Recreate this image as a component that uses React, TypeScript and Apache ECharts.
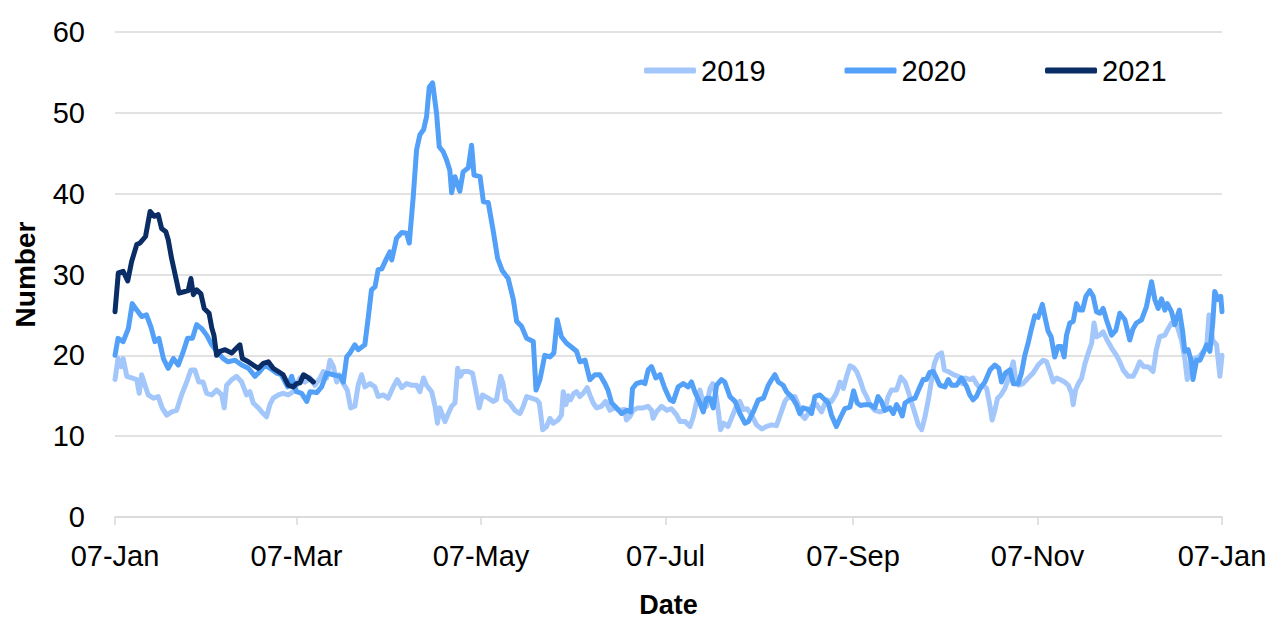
import React, { useEffect, useRef } from "react";
import * as echarts from "echarts";

// Day offset from 07-Jan (x) and value (y)
const xTickDays = [0, 60, 121, 182, 244, 305, 366];
const xTickLabels = ["07-Jan", "07-Mar", "07-May", "07-Jul", "07-Sep", "07-Nov", "07-Jan"];
const seriesNames = ["2019", "2020", "2021"];
const seriesColors = ["#A3C7FA", "#52A0F8", "#0A2D66"];

const data2019: [number, number][] = [
  [0, 17], [1, 19.6], [2, 18.6], [2.7, 19.6], [3.9, 17.4], [5.5, 17.2], [7.2, 17], [8, 15.3], [8.8, 17.6], [10.1, 16.1],
  [11, 15.1], [12.7, 14.7], [14.3, 14.9], [15.6, 13.5], [17.1, 12.6], [18.7, 13], [20.4, 13.2], [22, 15.1], [23.7, 16.7],
  [25.1, 18.2], [26.4, 18.2], [27.7, 16.7], [29.1, 16.7], [30.3, 15.3], [32, 15.1], [33.6, 15.7], [35.3, 15.1], [36.1, 13.5],
  [36.9, 16.3], [38.6, 17], [40.2, 17.4], [41.9, 16.7], [43.5, 15.1], [44.6, 15.5], [45.7, 14.1], [47.4, 13.5], [49, 12.8],
  [50.1, 12.4], [51.2, 13.9], [52.3, 14.7], [54, 15.1], [55.6, 15.3], [57.3, 15.1], [58.9, 15.5], [61.2, 17.2], [62.8, 16.7],
  [64.5, 17.2], [66.1, 16.3], [67.8, 17.2], [68.9, 18], [70, 17.2], [71.1, 19.4], [72.2, 18.6], [73.3, 16.7], [74.2, 17.6],
  [75.5, 16.5], [76.8, 15.7], [77.9, 13.5], [79.3, 13.7], [80.4, 16.3], [81.5, 17.6], [82.6, 16.1], [84.3, 16.5], [85.9, 16.1],
  [87, 14.9], [88.7, 15.1], [90.3, 14.7], [92, 16.1], [93.3, 17], [94.8, 16], [96.4, 16.5], [98.1, 16.3], [99.7, 16.3],
  [100.8, 15.5], [102, 17.2], [103, 16.3], [104.7, 15.5], [105.8, 13.7], [106.6, 11.6], [107.4, 13.5], [109.1, 11.8],
  [110.2, 12.8], [111.3, 13.7], [112.4, 14.1], [113.3, 18.4], [114.2, 17.4], [115.1, 18], [116.8, 18], [118.2, 17.8],
  [119.3, 15.7], [120.4, 13.5], [121.5, 15.1], [123.4, 14.7], [125, 14.3], [126.1, 14.5], [127.5, 17.4], [128.3, 16.5],
  [129.2, 14.5], [130.5, 14.1], [132.2, 13.2], [133.9, 12.8], [135, 13.7], [136.1, 14.9], [137.7, 14.7], [139.4, 14.5],
  [140.3, 14.1], [141.4, 10.8], [142.7, 11.2], [143.8, 12.2], [144.9, 11.6], [146.5, 12], [147.6, 12.6], [148.2, 15.5],
  [149.1, 13.9], [149.8, 15], [150.6, 14.5], [151.7, 15.3], [152.6, 15.5], [153.7, 14.9], [154.8, 15.3], [156.1, 16],
  [157, 15.1], [158.1, 14.1], [159.2, 13.5], [160.8, 13.7], [162.2, 14.3], [163.6, 13.2], [165.2, 13.5], [166.9, 13.2],
  [168.5, 13.3], [169.1, 12], [170.2, 12.4], [171.3, 13.2], [172.9, 13.5], [174.6, 13.5], [176.2, 13.7], [177.4, 13.2],
  [177.9, 12.2], [179, 13], [180.7, 13.7], [182.4, 13.2], [184, 13.4], [185.7, 12.6], [186.8, 11.8], [188.5, 11.8],
  [190.1, 11.2], [191.2, 12.4], [192.3, 14.3], [193.4, 15.7], [194.5, 14.1], [195.6, 13.7], [196.7, 15.9], [197.6, 16.5],
  [198.7, 15.1], [199.5, 13], [200.2, 10.8], [201.3, 11.6], [202.7, 11.2], [203.8, 12.2], [205.2, 13.5], [206.6, 14.3],
  [207.7, 13.3], [209, 13.4], [210.5, 12.6], [212.1, 11.4], [213.8, 10.9], [215.4, 11.2], [217.1, 11.4], [218.7, 11.3],
  [220.3, 13], [221.5, 14.3], [222.6, 14.9], [223.7, 14.7], [224.8, 14.9], [225.9, 13.9], [227, 12.6], [228.1, 12.2],
  [229.2, 12.8], [230.3, 13.7], [232, 13.9], [233.6, 13], [235.2, 14.5], [236.9, 14.3], [238.5, 15.3], [239.7, 16.7],
  [240.8, 15.9], [241.9, 17.4], [243, 18.7], [244.1, 18.5], [245.2, 18], [246.3, 17], [247.4, 15.7], [248.5, 14.9],
  [249.6, 13.9], [251.2, 13.2], [252.9, 13], [254.5, 13.2], [255.6, 14.9], [256.7, 15.7], [258.4, 15.7], [259.8, 17.3],
  [261.2, 16.7], [262.3, 15.5], [263.4, 14.1], [264.5, 12.8], [265.6, 11.4], [266.7, 10.8], [267.8, 12.4], [268.9, 14.5],
  [270, 17], [270.9, 19], [272, 20], [273.3, 20.3], [274.2, 18.2], [275.5, 18], [277.2, 17.6], [278.8, 17.4], [280.2, 16.5],
  [281, 17.2], [282.7, 17], [283.7, 17.2], [284.8, 16.5], [286, 15.9], [287.1, 16.3], [288.2, 15.9], [289.3, 13.7], [290, 12],
  [290.9, 13.2], [291.8, 14.7], [292.9, 15.1], [294.2, 15.9], [295.5, 17.2], [297, 19.2], [297.7, 17.2], [298.8, 16.3],
  [300.2, 16.5], [301.9, 17.2], [303.5, 17.8], [305.2, 18.8], [306.9, 19.4], [308, 19.2], [309.1, 18], [310.2, 16.7],
  [311.3, 17.2], [312.4, 17], [314, 16.7], [315.2, 16.3], [316.3, 15.3], [316.8, 13.9], [317.6, 15.7], [318.5, 16.5],
  [319.6, 17.2], [320.7, 19], [321.8, 20.3], [322.9, 21.5], [323.7, 24], [324.5, 22.3], [325.6, 22.5], [326.7, 22.9],
  [328, 21.9], [329.5, 20.9], [331.1, 20], [332.2, 19.2], [333.3, 18.2], [335, 17.4], [336.6, 17.4], [337.7, 18.2],
  [338.8, 19.2], [340.1, 18.6], [341.6, 18.6], [343.2, 18], [344.3, 20.7], [345.4, 22.3], [347.1, 22.5], [348.2, 23.3],
  [349.3, 24], [351, 23.8], [352.6, 21.9], [353.7, 19.6], [354.5, 17], [355.6, 19.4], [357, 19.6], [358.4, 19.8],
  [359.8, 20.5], [360.9, 20.9], [361.7, 25], [362.9, 21.9], [364.2, 21.3], [365.3, 17.4], [366, 20],
];

const data2020: [number, number][] = [
  [0, 20], [1, 22.1], [2.7, 21.7], [4.4, 23.3], [5.7, 26.4], [7.2, 25.6], [8.8, 24.8], [10.4, 25], [11.9, 23.5], [13.2, 21.7],
  [14.5, 22.1], [16, 19.6], [17.6, 18.4], [19.3, 19.6], [20.9, 18.8], [22.6, 20.5], [24, 22.1], [25.6, 22.1], [27, 23.8],
  [28.7, 23.3], [30.3, 22.5], [32, 21.3], [33.6, 20.5], [35.8, 19.6], [37.4, 19.2], [39.7, 19.4], [41.9, 18.8], [44.1, 18.4],
  [46.3, 17.4], [47.9, 18], [49.6, 18.8], [51.2, 18.4], [53.5, 17.8], [55, 17.6], [57.1, 16.1], [58.4, 17.4], [60, 15.5],
  [61.7, 15.3], [63.4, 14.3], [64.5, 15.5], [66.7, 15.4], [68.3, 16.1], [70, 17.8], [72.2, 17.6], [74.4, 17.4], [75.5, 16.7],
  [76.6, 19.8], [77.7, 20.3], [79.3, 21.3], [80.4, 20.7], [82.6, 21.3], [83.7, 24.6], [84.8, 28.1], [86, 28.5], [87, 30.6],
  [88.2, 30.7], [89.8, 32], [90.9, 32.8], [91.5, 31.8], [93.1, 34.5], [94.8, 35.2], [96.4, 35.1], [97.3, 33.9], [98.6, 39.6],
  [99.7, 45.4], [100.8, 47.3], [102, 47.9], [103, 49.5], [103.9, 53.2], [105, 53.7], [106.3, 50], [107.2, 45.8], [108.5, 45.2],
  [109.6, 44.2], [110.7, 42.9], [111.3, 40.1], [112.4, 42.1], [114, 40.3], [115.1, 42.7], [116.8, 43.2], [117.9, 46],
  [118.7, 42.3], [120.7, 42.1], [121.8, 39], [123.4, 38.9], [125, 35.5], [126.5, 32], [128, 30.5], [130, 29.5], [131.7, 26.9],
  [132.8, 24.2], [134.4, 23.6], [136.1, 22.1], [138.3, 21.7], [139.2, 15.7], [140.5, 17], [142.1, 20], [143.8, 19.8],
  [145.1, 20.3], [146.2, 24.4], [147.6, 22.3], [149.3, 21.5], [151, 21], [152.6, 20.5], [153.7, 19.2], [155.4, 19.4],
  [157, 17], [158.7, 17.6], [160.3, 17.6], [162, 16.5], [163, 15.7], [164.2, 14.1], [165.8, 13.5], [167.5, 12.8],
  [169.2, 13.2], [170.5, 13], [171.1, 15.9], [172.4, 16.5], [174.1, 16.7], [175.2, 16.5], [176.3, 18.2], [177.4, 18.6],
  [178.8, 17.2], [180.2, 17.6], [181.8, 15.9], [183.5, 14.5], [184.6, 14.3], [186.2, 16.1], [187.9, 16.5], [189.5, 16.1],
  [190.6, 16.7], [191.7, 15.5], [193.4, 14.1], [194.5, 13], [195.6, 14.7], [196.7, 14.7], [197.8, 13.5], [198.9, 16.3],
  [200.5, 17], [201.6, 16.7], [203.3, 14.9], [205, 14.3], [206.6, 12.8], [208.3, 11.6], [209.4, 11.8], [211, 13],
  [212.7, 14.5], [214.4, 14.7], [216, 16.3], [217.1, 17], [218.2, 17.6], [219.3, 16.7], [220.9, 16.3], [222, 15.5],
  [223.7, 14.9], [225.3, 13.9], [226.4, 12.8], [227.5, 13.5], [229.2, 13.3], [230.3, 12.8], [231.4, 14.9], [233, 15.1],
  [234.7, 14.5], [235.8, 14.1], [236.9, 12.6], [238.5, 11.2], [239.7, 12.2], [241.3, 13.4], [243, 13.6], [244.2, 15.6],
  [245.4, 14.1], [246.5, 13.8], [247.9, 13.9], [249.6, 13.9], [251.2, 13.5], [252.3, 14.9], [253.4, 14.3], [254.5, 13.2],
  [256.2, 13.5], [257.3, 12.8], [258.4, 13.9], [259.5, 13.2], [260.3, 12.5], [261.2, 14.1], [262.8, 14.5], [264.5, 14.7],
  [266.1, 16.1], [267.2, 17], [268.3, 17], [269.4, 17.9], [270.5, 18], [271.6, 17.2], [272.7, 16.3], [274.4, 16.1],
  [275.5, 17], [276.6, 16.3], [278.2, 16.3], [279.9, 17.2], [281.6, 16.1], [282.6, 15.1], [283.7, 14.5], [284.8, 14.9],
  [286, 15.9], [287.6, 16.7], [289.3, 18.2], [290.9, 18.8], [292.2, 18.4], [293.1, 16.7], [294.4, 17.8], [295.9, 18.2],
  [297, 16.5], [298.6, 16.5], [299.7, 17.8], [300.8, 20], [301.9, 21.5], [302.8, 23], [304.1, 24.9], [305.2, 24.7],
  [306.6, 26.3], [307.6, 24.5], [308.5, 23], [309.5, 22.3], [310.7, 19.8], [311.8, 21.1], [312.9, 21.1], [313.8, 19.8],
  [314.6, 22.5], [315.7, 24], [316.8, 24.2], [317.9, 26.4], [319, 25.6], [319.9, 25.6], [321, 27.3], [322.3, 28],
  [323.4, 27.3], [324.5, 25.4], [325.6, 25.2], [326.7, 25.8], [327.8, 24.4], [329.5, 22.5], [330.9, 23.1], [332.2, 25.2],
  [333.9, 24.4], [335.5, 21.9], [336.6, 23.3], [337.7, 24], [339.4, 24.4], [341, 26], [342.7, 29.1], [343.8, 26.9],
  [344.9, 25.8], [346, 27], [347.1, 25.6], [347.9, 26.4], [349.3, 25.4], [350.4, 23.8], [351.9, 25.6], [353, 22.9],
  [353.7, 20.5], [354.8, 20.7], [355.9, 19.2], [356.4, 17], [357.6, 19.4], [358.7, 19.4], [359.8, 20.3], [360.9, 21.3],
  [362, 20.5], [362.9, 23.8], [363.6, 27.9], [364.7, 26.9], [365.6, 27.3], [366, 25.4],
];

const data2021: [number, number][] = [
  [0, 25.4], [1.1, 30.2], [2.7, 30.4], [4.2, 29.2], [5.5, 31.6], [7.2, 33.7], [8.3, 33.9], [10.1, 34.7], [11.6, 37.8],
  [13, 37.2], [14.3, 37.4], [15.4, 35.7], [16.8, 35.3], [17.6, 34.3], [18.7, 32], [20.4, 29.1], [21.2, 27.7], [23.1, 27.9],
  [24.2, 28], [25.1, 29.5], [25.9, 27.5], [27, 28.1], [28.4, 27.6], [29.5, 25.8], [31.1, 25.2], [32, 23.4], [32.7, 22.5],
  [33.6, 20], [34.7, 20.5], [36.4, 20.7], [38.6, 20.3], [40.2, 20.9], [41.3, 21.3], [42.1, 19.6], [44.1, 19.2], [45.7, 18.8],
  [47.4, 18.4], [49, 19], [50.7, 19.2], [52.3, 18.4], [54, 18], [55.6, 17.6], [57.3, 16.3], [58.9, 16.1], [60, 16.5],
  [61.2, 16.6], [62.3, 17.6], [64, 17.2], [65.6, 16.7],
];

const FONT = "'Liberation Sans', Arial, sans-serif";

export default function App() {
  const ref = useRef<HTMLDivElement>(null);
  useEffect(() => {
    if (!ref.current) return;
    const chart = echarts.init(ref.current, null, { renderer: "svg" });
    const allData = [data2019, data2020, data2021];
    chart.setOption({
      animation: false,
      backgroundColor: "#ffffff",
      grid: { left: 115, right: 50, top: 32, bottom: 104, containLabel: false, outerBoundsMode: "none" },
      legend: {
        data: seriesNames,
        left: 644,
        top: 56,
        padding: 0,
        icon: "roundRect",
        itemWidth: 52,
        itemHeight: 6,
        itemGap: 79,
        textStyle: { fontSize: 29, color: "#000", fontFamily: FONT },
      },
      xAxis: {
        type: "value",
        min: 0,
        max: 366,
        name: "Date",
        nameLocation: "middle",
        nameGap: 74,
        nameTextStyle: { fontSize: 27, lineHeight: 28, fontWeight: "bold", color: "#000", fontFamily: FONT },
        axisLine: { show: true, lineStyle: { color: "#d9d9d9", width: 1.5 } },
        axisTick: { show: true, length: 8, customValues: xTickDays, lineStyle: { color: "#d9d9d9", width: 1.5 } },
        axisLabel: {
          customValues: xTickDays,
          margin: 24,
          fontSize: 29,
          color: "#000",
          fontFamily: FONT,
          formatter: (v: number) => {
            const i = xTickDays.indexOf(Math.round(v));
            return i >= 0 ? xTickLabels[i] : "";
          },
        },
        splitLine: { show: false },
      },
      yAxis: {
        type: "value",
        min: 0,
        max: 60,
        interval: 10,
        name: "Number",
        nameLocation: "middle",
        nameGap: 76,
        nameTextStyle: { fontSize: 28, fontWeight: "bold", color: "#000", fontFamily: FONT },
        axisLine: { show: false },
        axisTick: { show: false },
        axisLabel: { margin: 30, fontSize: 29, color: "#000", fontFamily: FONT },
        splitLine: { show: true, lineStyle: { color: "#d9d9d9", width: 1.5 } },
      },
      series: seriesNames.map((name, i) => ({
        name,
        type: "line",
        data: allData[i],
        showSymbol: false,
        symbol: "none",
        color: seriesColors[i],
        lineStyle: { width: 5, color: seriesColors[i], cap: "round", join: "round" },
        z: 2 + i,
      })),
    });
    return () => chart.dispose();
  }, []);
  return (
    <div
      ref={ref}
      style={{ position: "fixed", left: 0, top: 0, width: 1272, height: 621 }}
    />
  );
}
